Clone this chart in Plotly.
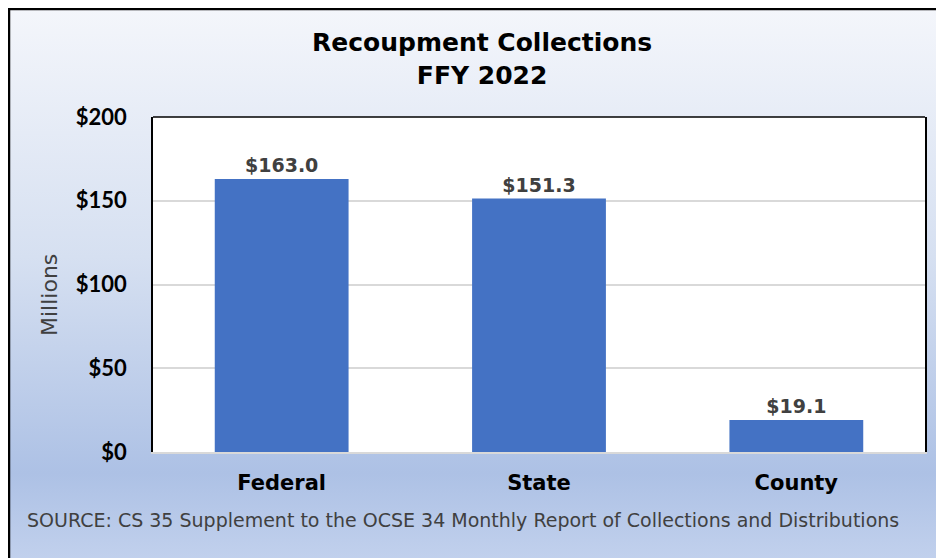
import base64
import plotly.graph_objects as go

# data
categories = ["Federal", "State", "County"]
values = [163.0, 151.3, 19.1]
value_labels = ["$163.0", "$151.3", "$19.1"]
tick_vals = [0, 50, 100, 150, 200]
tick_text = ["$0", "$50", "$100", "$150", "$200"]

# the page puts the figure 8px in from the window corner
OFF = 8
W, H = 936, 550
L, R, T, B = 145, 19, 109, 106
pw, ph = W - L - R, H - T - B


def px_x(x):
    # window pixel -> paper x
    return (x - OFF - L) / pw


def px_y(y):
    # window pixel -> paper y
    return (H - B - (y - OFF)) / ph


# gradient background for the chart frame
svg = """<svg xmlns='http://www.w3.org/2000/svg' width='100' height='100' preserveAspectRatio='none'>
<defs><linearGradient id='g' x1='0' y1='0' x2='0' y2='1'>
<stop offset='0' stop-color='#f4f6fb'/>
<stop offset='0.45' stop-color='#d6e0f1'/>
<stop offset='0.84' stop-color='#adc1e5'/>
<stop offset='1' stop-color='#c2d1ed'/>
</linearGradient></defs>
<rect width='100' height='100' fill='url(#g)'/></svg>"""
bg_src = "data:image/svg+xml;base64," + base64.b64encode(svg.encode()).decode()

fig = go.Figure()
fig.add_trace(go.Bar(
    x=categories, y=values,
    marker=dict(color="#4472c4", line=dict(width=0)),
    text=value_labels, textposition="outside", cliponaxis=False,
    textfont=dict(family="DejaVu Sans", size=19, color="#404040", weight="bold"),
    hoverinfo="skip",
))

fig.add_layout_image(dict(
    source=bg_src, xref="paper", yref="paper",
    x=px_x(8), y=px_y(8), sizex=px_x(W + 20) - px_x(8), sizey=px_y(8) - px_y(H + 12),
    sizing="stretch", xanchor="left", yanchor="top", layer="below",
))

shapes = [
    # white plot area
    dict(type="rect", xref="x domain", yref="y domain", x0=0, x1=1, y0=0, y1=1,
         fillcolor="white", line=dict(width=0), layer="below"),
    # top border of plot area
    dict(type="line", xref="paper", yref="paper", x0=0, x1=1, y0=1, y1=1,
         line=dict(color="black", width=1.5)),
    # outer chart frame
    dict(type="rect", xref="paper", yref="paper",
         x0=px_x(9), x1=px_x(W + 40), y0=px_y(9), y1=px_y(H + 40),
         line=dict(color="black", width=2.5), fillcolor="rgba(0,0,0,0)"),
]

annotations = [
    dict(text="<b>Recoupment Collections<br>FFY 2022</b>", xref="paper", yref="paper",
         x=px_x(482), y=px_y(59), xanchor="center", yanchor="middle", showarrow=False,
         font=dict(family="DejaVu Sans", size=25, color="black"), align="center"),
    dict(text="Millions", xref="paper", yref="paper", x=px_x(49), y=px_y(295),
         xanchor="center", yanchor="middle", textangle=-90, showarrow=False,
         font=dict(family="DejaVu Sans", size=22, color="#404040")),
    dict(text="SOURCE: CS 35 Supplement to the OCSE 34 Monthly Report of Collections and Distributions",
         xref="paper", yref="paper", x=px_x(25), y=px_y(520), xanchor="left", yanchor="middle",
         showarrow=False, font=dict(family="DejaVu Sans", size=19, color="#404040")),
]

fig.update_layout(
    width=W, height=H,
    margin=dict(l=L, r=R, t=T, b=B),
    paper_bgcolor="white", plot_bgcolor="white",
    showlegend=False, bargap=0.48,
    shapes=shapes, annotations=annotations,
    xaxis=dict(showline=True, linecolor="#d9d9d9", linewidth=2, ticks="",
               tickfont=dict(family="DejaVu Sans", size=21, color="black", weight="bold"),
               ticklabelstandoff=11, showgrid=False),
    yaxis=dict(range=[0, 200], tickvals=tick_vals, ticktext=tick_text,
               showline=True, linecolor="black", linewidth=1.5, mirror=True,
               gridcolor="#d9d9d9", gridwidth=1.5, zeroline=False, ticks="",
               tickfont=dict(family="Lato", size=22, color="black", weight="bold"),
               ticklabelstandoff=20),
)

fig.write_html("out.html")
